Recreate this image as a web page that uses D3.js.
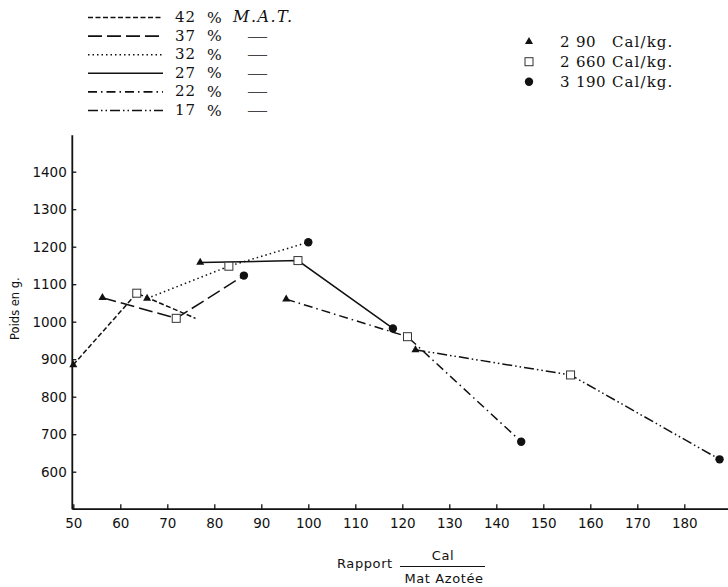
<!DOCTYPE html>
<html>
<head>
<meta charset="utf-8">
<script src="https://cdn.jsdelivr.net/npm/d3@7"></script>
<style>
  body { margin: 0; background: #fff; }
  svg { display: block; }
  .tick text { font-family: "DejaVu Sans", sans-serif; font-size: 13.5px; fill: #111; }
  .tick line { stroke: #111; stroke-width: 1.3; }
</style>
</head>
<body>
<svg id="chart" width="728" height="587"></svg>
<script>
// % M.A.T. levels (legend, top left)
var matLevels = ["42", "37", "32", "27", "22", "17"]
var matDash = ["5,2.5", "14,5", "1.5,3", null, "9,4,1.5,4", "10,3,1.5,3,1.5,3"]

// energy levels (legend, top right)
var energyThousands = ["2", "2", "3"]
var energyRest = ["90", "660", "190"]
var energyShape = ["triangle", "square", "circle"]

// one line per M.A.T. level, points in the order 2190 / 2660 / 3190 Cal
var rapport42 = [50, 63.5, 76]
var poids42 = [885, 1076, 1009]
var rapport37 = [56.2, 71.9, 86.3]
var poids37 = [1064, 1009, 1123]
var rapport32 = [65.7, 83.1, 100]
var poids32 = [1062, 1148, 1212]
var rapport27 = [77, 97.8, 118]
var poids27 = [1158, 1163, 982]
var rapport22 = [95.3, 121.1, 145.3]
var poids22 = [1060, 960, 680]
var rapport17 = [122.8, 155.8, 187.5]
var poids17 = [925, 858, 633]
// the 42 % line has no marker on its last point
var marked42 = [true, true, false]

var xTicks = [50, 60, 70, 80, 90, 100, 110, 120, 130, 140, 150, 160, 170, 180]
var yTicks = [600, 700, 800, 900, 1000, 1100, 1200, 1300, 1400]

var width = 728
var svg = d3.select("#chart")

var x = d3.scaleLinear().domain([50, 180]).range([73.3, 684.3])
var y = d3.scaleLinear().domain([500, 1400]).range([509.2, 171.7])

var allSeries = [
  { r: rapport42, p: poids42, m: marked42 },
  { r: rapport37, p: poids37 },
  { r: rapport32, p: poids32 },
  { r: rapport27, p: poids27 },
  { r: rapport22, p: poids22 },
  { r: rapport17, p: poids17 }
]

// axes
var axisX = x(50) - 1
var axisY = y(500)

svg.append("line")
  .attr("x1", axisX).attr("x2", axisX)
  .attr("y1", axisY).attr("y2", y(1497))
  .attr("stroke", "#111").attr("stroke-width", 1.8)

svg.append("line")
  .attr("x1", axisX).attr("x2", width)
  .attr("y1", axisY).attr("y2", axisY)
  .attr("stroke", "#111").attr("stroke-width", 1.8)

var gx = svg.append("g")
  .attr("transform", `translate(0,${axisY})`)
  .call(d3.axisBottom(x).tickValues(xTicks).tickSize(-5).tickPadding(9).tickFormat(d3.format("d")))
gx.select(".domain").remove()

var gy = svg.append("g")
  .attr("transform", `translate(${axisX},0)`)
  .call(d3.axisLeft(y).tickValues(yTicks).tickSize(-4).tickPadding(5.5).tickFormat(d3.format("d")))
gy.select(".domain").remove()

// axis titles
svg.append("text")
  .attr("transform", `translate(19,${y(1035)}) rotate(-90)`)
  .attr("text-anchor", "middle")
  .attr("font-family", "DejaVu Sans, sans-serif")
  .attr("font-size", 11.5)
  .attr("fill", "#111")
  .text("Poids en g.")

svg.append("text")
  .attr("x", 337).attr("y", 568)
  .attr("font-family", "DejaVu Sans, sans-serif")
  .attr("font-size", 13)
  .attr("letter-spacing", 0.6)
  .attr("fill", "#111")
  .text("Rapport")

svg.append("line")
  .attr("x1", 400).attr("x2", 485)
  .attr("y1", 566.5).attr("y2", 566.5)
  .attr("stroke", "#111").attr("stroke-width", 1.2)

svg.append("text")
  .attr("x", 443).attr("y", 560)
  .attr("text-anchor", "middle")
  .attr("font-family", "DejaVu Sans, sans-serif")
  .attr("font-size", 13)
  .attr("letter-spacing", 0.6)
  .attr("fill", "#111")
  .text("Cal")

svg.append("text")
  .attr("x", 444).attr("y", 583)
  .attr("text-anchor", "middle")
  .attr("font-family", "DejaVu Sans, sans-serif")
  .attr("font-size", 13)
  .attr("letter-spacing", 0.6)
  .attr("fill", "#111")
  .text("Mat Azotée")

// lines
var line = d3.line()
  .x(d => x(d[0]))
  .y(d => y(d[1]))

allSeries.forEach(function(s, i) {
  var pts = s.r.map((r, j) => [r, s.p[j]])
  svg.append("path")
    .datum(pts)
    .attr("d", line)
    .attr("fill", "none")
    .attr("stroke", "#111")
    .attr("stroke-width", 1.5)
    .attr("stroke-dasharray", matDash[i])
})

function drawMarker(g, shape, cx, cy) {
  if (shape === "triangle") {
    g.append("path")
      .attr("d", d3.symbol().type(d3.symbolTriangle).size(28)())
      .attr("transform", `translate(${cx},${cy})`)
      .attr("fill", "#111")
  } else if (shape === "square") {
    g.append("rect")
      .attr("x", cx - 4).attr("y", cy - 4)
      .attr("width", 8).attr("height", 8)
      .attr("fill", "#fff")
      .attr("stroke", "#333")
      .attr("stroke-width", 1)
  } else {
    g.append("circle")
      .attr("cx", cx).attr("cy", cy).attr("r", 4.2)
      .attr("fill", "#111")
  }
}

var markG = svg.append("g")
allSeries.forEach(function(s) {
  s.r.forEach(function(r, j) {
    if (s.m && !s.m[j]) return
    drawMarker(markG, energyShape[j], x(r), y(s.p[j]))
  })
})

// legend: M.A.T. levels
var rowY = d3.scaleLinear().domain([0, 5]).range([17, 110])
var serif = "DejaVu Serif, serif"

matLevels.forEach(function(m, i) {
  var ly = rowY(i)
  svg.append("line")
    .attr("x1", 88).attr("x2", 163)
    .attr("y1", ly + 0.5).attr("y2", ly + 0.5)
    .attr("stroke", "#111")
    .attr("stroke-width", 1.6)
    .attr("stroke-dasharray", matDash[i])
  svg.append("text")
    .attr("x", 175).attr("y", ly + 5)
    .attr("font-family", serif).attr("font-size", 15)
    .attr("letter-spacing", 1)
    .attr("fill", "#111")
    .text(m)
  svg.append("text")
    .attr("x", 207).attr("y", ly + 5.5)
    .attr("font-family", serif).attr("font-size", 15.5)
    .attr("fill", "#111")
    .text("%")
  if (i === 0) {
    svg.append("text")
      .attr("x", 233).attr("y", ly + 5)
      .attr("font-family", serif).attr("font-size", 16)
      .attr("font-style", "italic")
      .attr("letter-spacing", 1.5)
      .attr("fill", "#111")
      .text("M.A.T.")
  } else {
    svg.append("text")
      .attr("x", 247).attr("y", ly + 5)
      .attr("font-family", serif).attr("font-size", 12)
      .attr("textLength", 21)
      .attr("lengthAdjust", "spacingAndGlyphs")
      .attr("fill", "#444")
      .text("—")
  }
})

// legend: energy levels
var eRowY = d3.scaleLinear().domain([0, 2]).range([41.7, 81.7])
energyShape.forEach(function(sh, i) {
  var ly = eRowY(i)
  drawMarker(svg, sh, 529, ly)
  svg.append("text")
    .attr("x", 560).attr("y", ly + 5)
    .attr("font-family", serif).attr("font-size", 15)
    .attr("fill", "#111")
    .text(energyThousands[i])
  svg.append("text")
    .attr("x", 576).attr("y", ly + 5)
    .attr("font-family", serif).attr("font-size", 15)
    .attr("letter-spacing", 0.5)
    .attr("fill", "#111")
    .text(energyRest[i])
  svg.append("text")
    .attr("x", 612).attr("y", ly + 5)
    .attr("font-family", serif).attr("font-size", 15)
    .attr("letter-spacing", 1.1)
    .attr("fill", "#111")
    .text("Cal/kg.")
})
</script>
</body>
</html>
